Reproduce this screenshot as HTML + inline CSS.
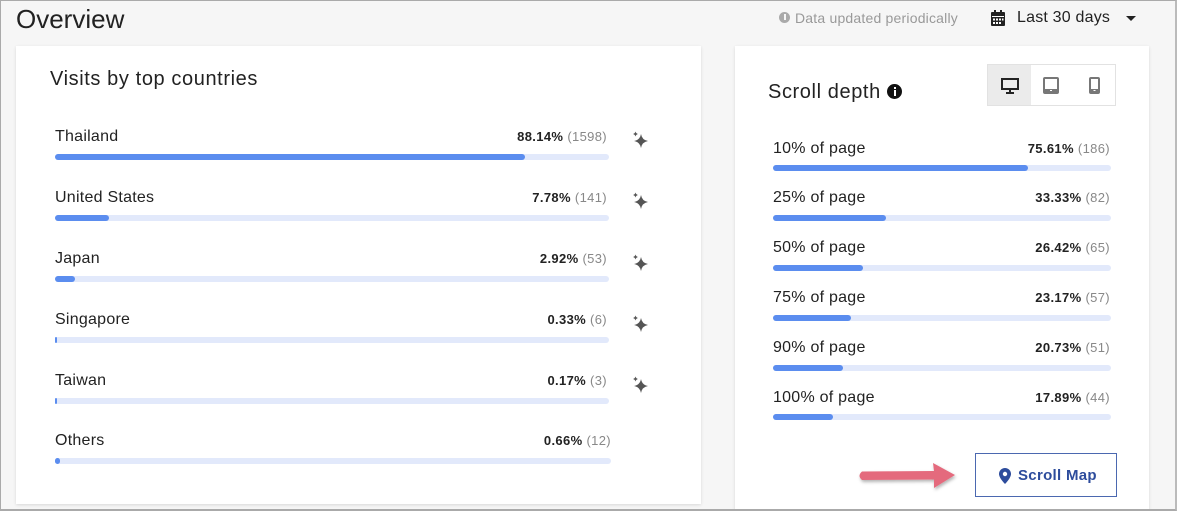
<!DOCTYPE html>
<html><head><meta charset="utf-8">
<style>
*{margin:0;padding:0;box-sizing:border-box}
html,body{width:1177px;height:511px;overflow:hidden}
body{background:#f6f6f6;font-family:"Liberation Sans",sans-serif;color:#222;position:relative}
.frame{position:absolute;left:0;top:0;width:1177px;height:511px;border:1px solid #aaa;border-right:2px solid #bbb;border-bottom:2px solid #aaa;z-index:10;pointer-events:none}
.t{position:absolute;white-space:nowrap}
.card{position:absolute;background:#fff;box-shadow:0 1px 3px rgba(0,0,0,0.12)}
.track{position:absolute;height:6px;border-radius:3px;background:#e2e9fb}
.fill{position:absolute;left:0;top:0;height:6px;border-radius:3px;background:#5b8def}
.lab{position:absolute;font-size:16px;color:#222;white-space:nowrap;letter-spacing:0.25px}
.val{position:absolute;font-size:13px;white-space:nowrap;text-align:right;color:#222;letter-spacing:0.35px}
.val b{font-weight:bold;color:#222}
.val span{color:#888}
.spark{position:absolute}
</style></head><body>
<div class="frame"></div>

<div class="t" style="left:16px;top:4px;font-size:26px;color:#222;">Overview</div>

<!-- header right -->
<div style="position:absolute;left:779px;top:12px;width:11px;height:11px;border-radius:50%;background:#aaa;"></div>
<div style="position:absolute;left:784px;top:14px;width:1.5px;height:6px;background:#f6f6f6;"></div>
<div class="t" style="left:795px;top:10px;font-size:14px;color:#999;letter-spacing:0.2px;">Data updated periodically</div>
<svg style="position:absolute;left:991px;top:10px" width="14" height="16" viewBox="0 0 14 16">
<rect x="0" y="2" width="14" height="14" rx="1" fill="#222"/>
<rect x="3" y="0" width="2" height="4" fill="#222"/><rect x="9" y="0" width="2" height="4" fill="#222"/>
<rect x="1" y="6" width="12" height="1" fill="#fff"/>
<rect x="2" y="8.5" width="2" height="2" fill="#fff"/><rect x="5" y="8.5" width="2" height="2" fill="#fff"/><rect x="8" y="8.5" width="2" height="2" fill="#fff"/><rect x="11" y="8.5" width="1.5" height="2" fill="#fff"/>
<rect x="2" y="12" width="2" height="2" fill="#fff"/><rect x="5" y="12" width="2" height="2" fill="#fff"/><rect x="8" y="12" width="2" height="2" fill="#fff"/>
</svg>
<div class="t" style="left:1017px;top:9px;font-size:16px;color:#222;letter-spacing:0.2px;">Last 30 days</div>
<div style="position:absolute;left:1126px;top:16px;width:0;height:0;border-left:5px solid transparent;border-right:5px solid transparent;border-top:5px solid #222;"></div>

<!-- left card -->
<div class="card" style="left:16px;top:46px;width:685px;height:458px;"></div>
<div class="t" style="left:50px;top:68px;font-size:20px;color:#222;letter-spacing:0.6px;">Visits by top countries</div>

<svg width="0" height="0" style="position:absolute">
<defs>
<g id="sp">
<path d="M9 3 Q10 9 16 10 Q10 11 9 17 Q8 11 2 10 Q8 9 9 3 Z" fill="#555"/>
<path d="M3.5 0.5 Q4 2.5 6 3 Q4 3.5 3.5 5.5 Q3 3.5 1 3 Q3 2.5 3.5 0.5 Z" fill="#555"/>
</g>
</defs>
</svg>

<div class="lab" style="left:55px;top:128px;">Thailand</div>
<div class="val" style="right:570px;top:129px;"><b>88.14%</b> <span>(1598)</span></div>
<div class="track" style="left:55px;top:154px;width:554px;"><div class="fill" style="width:470px"></div></div>
<svg class="spark" style="left:632px;top:131px" width="18" height="18"><use href="#sp"/></svg>

<div class="lab" style="left:55px;top:189px;">United States</div>
<div class="val" style="right:570px;top:190px;"><b>7.78%</b> <span>(141)</span></div>
<div class="track" style="left:55px;top:215px;width:554px;"><div class="fill" style="width:54px"></div></div>
<svg class="spark" style="left:632px;top:192px" width="18" height="18"><use href="#sp"/></svg>

<div class="lab" style="left:55px;top:250px;">Japan</div>
<div class="val" style="right:570px;top:251px;"><b>2.92%</b> <span>(53)</span></div>
<div class="track" style="left:55px;top:276px;width:554px;"><div class="fill" style="width:20px"></div></div>
<svg class="spark" style="left:632px;top:254px" width="18" height="18"><use href="#sp"/></svg>

<div class="lab" style="left:55px;top:311px;">Singapore</div>
<div class="val" style="right:570px;top:312px;"><b>0.33%</b> <span>(6)</span></div>
<div class="track" style="left:55px;top:337px;width:554px;"><div class="fill" style="width:2px;border-radius:1px"></div></div>
<svg class="spark" style="left:632px;top:315px" width="18" height="18"><use href="#sp"/></svg>

<div class="lab" style="left:55px;top:372px;">Taiwan</div>
<div class="val" style="right:570px;top:373px;"><b>0.17%</b> <span>(3)</span></div>
<div class="track" style="left:55px;top:398px;width:554px;"><div class="fill" style="width:1.5px;border-radius:1px"></div></div>
<svg class="spark" style="left:632px;top:376px" width="18" height="18"><use href="#sp"/></svg>

<div class="lab" style="left:55px;top:432px;">Others</div>
<div class="val" style="right:566px;top:433px;"><b>0.66%</b> <span>(12)</span></div>
<div class="track" style="left:55px;top:458px;width:556px;"><div class="fill" style="width:5px"></div></div>

<!-- right card -->
<div class="card" style="left:735px;top:46px;width:414px;height:470px;"></div>
<div class="t" style="left:768px;top:81px;font-size:20px;color:#222;letter-spacing:0.6px;">Scroll depth</div>
<div style="position:absolute;left:887px;top:84px;width:15px;height:15px;border-radius:50%;background:#111;"></div>
<div style="position:absolute;left:893.5px;top:87px;width:2px;height:2px;background:#fff;"></div>
<div style="position:absolute;left:893.5px;top:90px;width:2px;height:6px;background:#fff;"></div>

<div style="position:absolute;left:987px;top:64px;width:129px;height:42px;border:1px solid #e2e2e2;background:#fff;"></div>
<div style="position:absolute;left:988px;top:65px;width:43px;height:40px;background:#ebebeb;"></div>
<svg style="position:absolute;left:1001px;top:78px" width="18" height="16" viewBox="0 0 18 16">
<rect x="1" y="1" width="16" height="10" fill="none" stroke="#222" stroke-width="2"/>
<rect x="8" y="11" width="2" height="3" fill="#222"/><rect x="5" y="14" width="8" height="2" fill="#222"/>
</svg>
<svg style="position:absolute;left:1043px;top:77px" width="16" height="17" viewBox="0 0 16 17">
<rect x="1" y="1" width="14" height="15" rx="1" fill="none" stroke="#777" stroke-width="2"/>
<rect x="2" y="12" width="12" height="3" fill="#777"/><rect x="7" y="13" width="2" height="1" fill="#fff"/>
</svg>
<svg style="position:absolute;left:1089px;top:77px" width="11" height="17" viewBox="0 0 11 17">
<rect x="1" y="1" width="9" height="15" rx="1" fill="none" stroke="#777" stroke-width="2"/>
<rect x="2" y="12" width="7" height="3" fill="#777"/><rect x="4.5" y="13" width="2" height="1" fill="#fff"/>
</svg>

<div class="lab" style="left:773px;top:140px;">10% of page</div>
<div class="val" style="right:67px;top:141px;"><b>75.61%</b> <span>(186)</span></div>
<div class="track" style="left:773px;top:165px;width:338px;"><div class="fill" style="width:255px"></div></div>

<div class="lab" style="left:773px;top:189px;">25% of page</div>
<div class="val" style="right:67px;top:190px;"><b>33.33%</b> <span>(82)</span></div>
<div class="track" style="left:773px;top:215px;width:338px;"><div class="fill" style="width:113px"></div></div>

<div class="lab" style="left:773px;top:239px;">50% of page</div>
<div class="val" style="right:67px;top:240px;"><b>26.42%</b> <span>(65)</span></div>
<div class="track" style="left:773px;top:265px;width:338px;"><div class="fill" style="width:90px"></div></div>

<div class="lab" style="left:773px;top:289px;">75% of page</div>
<div class="val" style="right:67px;top:290px;"><b>23.17%</b> <span>(57)</span></div>
<div class="track" style="left:773px;top:315px;width:338px;"><div class="fill" style="width:78px"></div></div>

<div class="lab" style="left:773px;top:339px;">90% of page</div>
<div class="val" style="right:67px;top:340px;"><b>20.73%</b> <span>(51)</span></div>
<div class="track" style="left:773px;top:365px;width:338px;"><div class="fill" style="width:70px"></div></div>

<div class="lab" style="left:773px;top:389px;">100% of page</div>
<div class="val" style="right:67px;top:390px;"><b>17.89%</b> <span>(44)</span></div>
<div class="track" style="left:773px;top:414px;width:338px;"><div class="fill" style="width:60px"></div></div>

<!-- arrow -->
<svg style="position:absolute;left:852px;top:458px" width="110" height="40" viewBox="0 0 110 40">
<defs><filter id="sh" x="-20%" y="-40%" width="140%" height="180%"><feDropShadow dx="1" dy="2" stdDeviation="1.5" flood-color="#000" flood-opacity="0.3"/></filter></defs>
<path d="M10 13.5 L82 13 L81 5 L103 17 L82 30 L82 21.5 L10 22 Q5 17.8 10 13.5 Z" fill="#e46a7d" filter="url(#sh)"/>
</svg>

<!-- button -->
<div style="position:absolute;left:975px;top:453px;width:142px;height:44px;border:1.5px solid #4b68b0;background:#fff;"></div>
<svg style="position:absolute;left:999px;top:468px" width="12" height="16" viewBox="0 0 12 16">
<path d="M6 0 C2.7 0 0 2.6 0 5.9 C0 10.2 6 16 6 16 C6 16 12 10.2 12 5.9 C12 2.6 9.3 0 6 0 Z" fill="#2d4c9c"/>
<circle cx="6" cy="6" r="2.2" fill="#fff"/>
</svg>
<div class="t" style="left:1018px;top:467px;font-size:15px;font-weight:bold;color:#2d4c9c;letter-spacing:0.3px;">Scroll Map</div>
</body></html>
